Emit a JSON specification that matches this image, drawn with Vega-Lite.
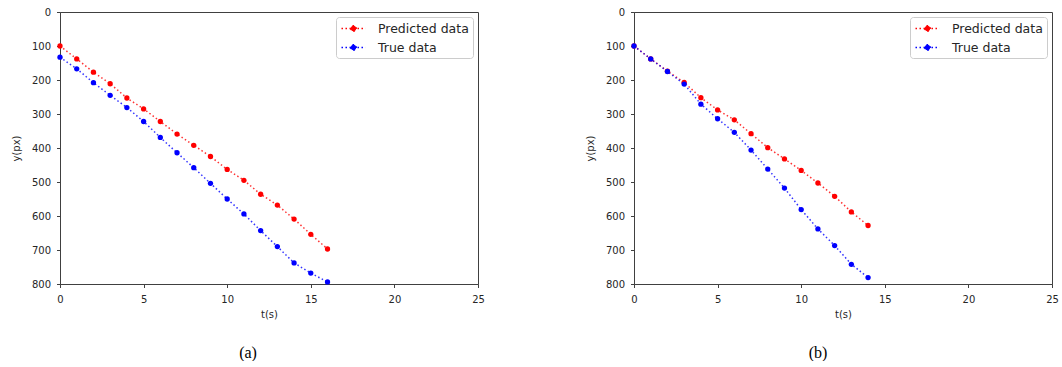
{
  "$schema": "https://vega.github.io/schema/vega-lite/v6.json",
  "background": "white",
  "padding": {"left": 10, "top": 6, "right": 0, "bottom": 0},
  "bounds": "flush",
  "spacing": 156,
  "datasets": {
    "pts": [
      {"panel": "a", "series": "Predicted data", "t": 0, "y": 100},
      {"panel": "a", "series": "Predicted data", "t": 1, "y": 138},
      {"panel": "a", "series": "Predicted data", "t": 2, "y": 177},
      {"panel": "a", "series": "Predicted data", "t": 3, "y": 211},
      {"panel": "a", "series": "Predicted data", "t": 4, "y": 253},
      {"panel": "a", "series": "Predicted data", "t": 5, "y": 285},
      {"panel": "a", "series": "Predicted data", "t": 6, "y": 322},
      {"panel": "a", "series": "Predicted data", "t": 7, "y": 359},
      {"panel": "a", "series": "Predicted data", "t": 8, "y": 392},
      {"panel": "a", "series": "Predicted data", "t": 9, "y": 425},
      {"panel": "a", "series": "Predicted data", "t": 10, "y": 463},
      {"panel": "a", "series": "Predicted data", "t": 11, "y": 495},
      {"panel": "a", "series": "Predicted data", "t": 12, "y": 536},
      {"panel": "a", "series": "Predicted data", "t": 13, "y": 568},
      {"panel": "a", "series": "Predicted data", "t": 14, "y": 609},
      {"panel": "a", "series": "Predicted data", "t": 15, "y": 654},
      {"panel": "a", "series": "Predicted data", "t": 16, "y": 697},
      {"panel": "a", "series": "True data", "t": 0, "y": 133},
      {"panel": "a", "series": "True data", "t": 1, "y": 167},
      {"panel": "a", "series": "True data", "t": 2, "y": 208},
      {"panel": "a", "series": "True data", "t": 3, "y": 245},
      {"panel": "a", "series": "True data", "t": 4, "y": 281},
      {"panel": "a", "series": "True data", "t": 5, "y": 322},
      {"panel": "a", "series": "True data", "t": 6, "y": 369},
      {"panel": "a", "series": "True data", "t": 7, "y": 414},
      {"panel": "a", "series": "True data", "t": 8, "y": 458},
      {"panel": "a", "series": "True data", "t": 9, "y": 504},
      {"panel": "a", "series": "True data", "t": 10, "y": 550},
      {"panel": "a", "series": "True data", "t": 11, "y": 594},
      {"panel": "a", "series": "True data", "t": 12, "y": 643},
      {"panel": "a", "series": "True data", "t": 13, "y": 690},
      {"panel": "a", "series": "True data", "t": 14, "y": 738},
      {"panel": "a", "series": "True data", "t": 15, "y": 768},
      {"panel": "a", "series": "True data", "t": 16, "y": 794},
      {"panel": "b", "series": "Predicted data", "t": 0, "y": 100},
      {"panel": "b", "series": "Predicted data", "t": 1, "y": 138},
      {"panel": "b", "series": "Predicted data", "t": 2, "y": 174},
      {"panel": "b", "series": "Predicted data", "t": 3, "y": 207},
      {"panel": "b", "series": "Predicted data", "t": 4, "y": 252},
      {"panel": "b", "series": "Predicted data", "t": 5, "y": 288},
      {"panel": "b", "series": "Predicted data", "t": 6, "y": 317},
      {"panel": "b", "series": "Predicted data", "t": 7, "y": 358},
      {"panel": "b", "series": "Predicted data", "t": 8, "y": 399},
      {"panel": "b", "series": "Predicted data", "t": 9, "y": 432},
      {"panel": "b", "series": "Predicted data", "t": 10, "y": 466},
      {"panel": "b", "series": "Predicted data", "t": 11, "y": 503},
      {"panel": "b", "series": "Predicted data", "t": 12, "y": 542},
      {"panel": "b", "series": "Predicted data", "t": 13, "y": 588},
      {"panel": "b", "series": "Predicted data", "t": 14, "y": 628},
      {"panel": "b", "series": "True data", "t": 0, "y": 100},
      {"panel": "b", "series": "True data", "t": 1, "y": 138},
      {"panel": "b", "series": "True data", "t": 2, "y": 175},
      {"panel": "b", "series": "True data", "t": 3, "y": 212},
      {"panel": "b", "series": "True data", "t": 4, "y": 271},
      {"panel": "b", "series": "True data", "t": 5, "y": 314},
      {"panel": "b", "series": "True data", "t": 6, "y": 354},
      {"panel": "b", "series": "True data", "t": 7, "y": 406},
      {"panel": "b", "series": "True data", "t": 8, "y": 462},
      {"panel": "b", "series": "True data", "t": 9, "y": 518},
      {"panel": "b", "series": "True data", "t": 10, "y": 581},
      {"panel": "b", "series": "True data", "t": 11, "y": 638},
      {"panel": "b", "series": "True data", "t": 12, "y": 687},
      {"panel": "b", "series": "True data", "t": 13, "y": 742},
      {"panel": "b", "series": "True data", "t": 14, "y": 781}
    ]
  },
  "hconcat": [
    {
      "width": 418,
      "height": 272,
      "title": {"text": "(a)", "orient": "bottom", "dx": -21},
      "data": {"name": "pts"},
      "transform": [{"filter": "datum.panel === 'a'"}],
      "encoding": {
        "x": {"field": "t", "type": "quantitative", "title": "t(s)",
              "scale": {"domain": [0, 25], "nice": false},
              "axis": {"values": [0, 5, 10, 15, 20, 25]}},
        "y": {"field": "y", "type": "quantitative", "title": "y(px)",
              "scale": {"domain": [0, 800], "reverse": true, "nice": false},
              "axis": {"values": [0, 100, 200, 300, 400, 500, 600, 700, 800]}},
        "color": {"field": "series", "type": "nominal",
                  "scale": {"domain": ["Predicted data", "True data"], "range": ["#ff0000", "#0000ff"]},
                  "legend": {"title": null}}
      },
      "layer": [
        {"mark": {"type": "line", "strokeDash": [1.5, 2.5], "strokeWidth": 1.5, "opacity": 0.8}},
        {"mark": {"type": "point", "filled": true, "size": 28, "opacity": 1}}
      ]
    },
    {
      "width": 418,
      "height": 272,
      "title": {"text": "(b)", "orient": "bottom", "dx": -25},
      "data": {"name": "pts"},
      "transform": [{"filter": "datum.panel === 'b'"}],
      "encoding": {
        "x": {"field": "t", "type": "quantitative", "title": "t(s)",
              "scale": {"domain": [0, 25], "nice": false},
              "axis": {"values": [0, 5, 10, 15, 20, 25]}},
        "y": {"field": "y", "type": "quantitative", "title": "y(px)",
              "scale": {"domain": [0, 800], "reverse": true, "nice": false},
              "axis": {"values": [0, 100, 200, 300, 400, 500, 600, 700, 800]}},
        "color": {"field": "series", "type": "nominal",
                  "scale": {"domain": ["Predicted data", "True data"], "range": ["#ff0000", "#0000ff"]},
                  "legend": {"title": null}}
      },
      "layer": [
        {"mark": {"type": "line", "strokeDash": [1.5, 2.5], "strokeWidth": 1.5, "opacity": 0.8}},
        {"mark": {"type": "point", "filled": true, "size": 28, "opacity": 1}}
      ]
    }
  ],
  "resolve": {"scale": {"color": "independent"}, "legend": {"color": "independent"}},
  "config": {
    "font": "DejaVu Sans",
    "view": {"stroke": "#404040", "strokeWidth": 1},
    "axis": {
      "grid": false,
      "domainColor": "#404040",
      "tickColor": "#404040",
      "tickSize": 3.5,
      "labelFont": "DejaVu Sans",
      "labelFontSize": 10,
      "labelColor": "#262626",
      "titleFont": "DejaVu Sans",
      "titleFontSize": 10,
      "titleFontWeight": "normal",
      "titleColor": "#262626"
    },
    "axisX": {"labelFlush": false, "labelPadding": 7, "titlePadding": 5},
    "axisY": {"labelPadding": 6, "titlePadding": 10},
    "legend": {
      "orient": "top-right",
      "offset": 5,
      "fillColor": "white",
      "strokeColor": "#cccccc",
      "cornerRadius": 3,
      "padding": 4,
      "labelFont": "DejaVu Sans",
      "labelFontSize": 12.5,
      "labelColor": "#262626",
      "rowPadding": 5,
      "symbolType": "M-1.85,0L1.85,0M-0.42,0a0.42,0.42 0 1,0 0.84,0a0.42,0.42 0 1,0 -0.84,0",
      "symbolSize": 169,
      "symbolOffset": 6,
      "symbolStrokeWidth": 1.5,
      "symbolDash": [1.5, 2.5],
      "symbolOpacity": 1,
      "labelOffset": 17
    },
    "title": {
      "font": "Liberation Serif",
      "fontSize": 16,
      "fontWeight": "normal",
      "color": "#000000",
      "offset": 25
    }
  }
}
